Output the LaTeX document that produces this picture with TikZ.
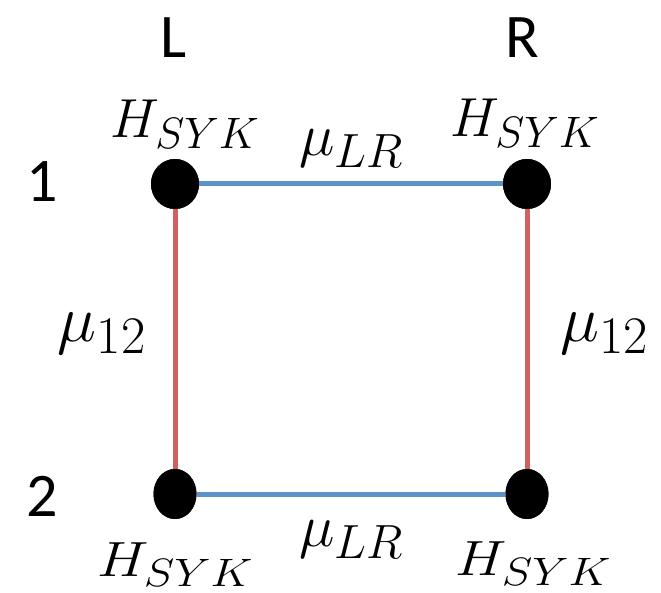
\RequirePackage{fix-cm}
\documentclass[tikz,border=0pt]{standalone}
\usepackage{fontspec}
\newfontfamily\labelfont{Carlito}
\renewcommand{\defaultscriptratio}{.8}
\usetikzlibrary{shapes.geometric, positioning}
\definecolor{lrblue}{RGB}{91,147,201}
\definecolor{rowred}{RGB}{208,96,94}

\begin{document}
\begin{tikzpicture}[
        x=1pt, y=-1pt,
        node distance=6pt and 6pt,
        site/.style={ellipse, fill=black, inner sep=0pt, minimum width=48pt, minimum height=50pt},
        narrow/.style={site, minimum width=43pt},
        ham/.style={inner sep=0pt, font=\fontsize{55}{62}\selectfont},
        coupling/.style={inner sep=0pt, font=\fontsize{60}{68}\selectfont},
        rowcoupling/.style={inner sep=0pt, font=\fontsize{66}{74}\selectfont},
        side/.style={inner sep=0pt, font=\labelfont\fontsize{62}{70}\selectfont},
        lrlink/.style={lrblue, line width=5pt},
        rowlink/.style={rowred, line width=5pt},
    ]
        \useasboundingbox (0,0) rectangle (661,593);

        % Sites
        \node[site] (l1) at (175,184) {};
        \node[site] (r1) at (527,184) {};
        \node[narrow] (l2) at (175,494) {};
        \node[narrow] (r2) at (527,494) {};

        % Links
        \draw[lrlink] (l1) -- (r1);
        \draw[lrlink] (l2) -- (r2);
        \draw[rowlink] (l1) -- (l2);
        \draw[rowlink] (r1) -- (r2);
        \node[site] at (l1) {};
        \node[site] at (r1) {};
        \node[narrow] at (l2) {};
        \node[narrow] at (r2) {};

        % Coupling labels
        \path (l1) -- node[coupling, above=16pt] (lrtop) {$\mu_{LR}$} (r1);
        \path (l2) -- node[coupling, below=26pt] (lrbot) {$\mu_{LR}$} (r2);
        \path (l1) -- node[rowcoupling, left=29pt, yshift=5pt] (left12) {$\mu_{12}$} (l2);
        \path (r1) -- node[rowcoupling, right=33pt, yshift=5pt] (right12) {$\mu_{12}$} (r2);

        % Hamiltonians
        \node[ham, above=10pt of l1, xshift=10pt] (hl1) {$H_{SYK}$};
        \node[ham, above=11pt of r1, xshift=-2pt] (hr1) {$H_{SYK}$};
        \node[ham, below=23pt of l2] (hl2) {\scalebox{1.05}[0.9]{$H_{SYK}$}};
        \node[ham, below=22pt of r2, xshift=6pt] (hr2) {\scalebox{1.05}[0.9]{$H_{SYK}$}};

        % Sides and rows
        \node[side] (lname) at (174,38) {L};
        \node[side] (rname) at (522,38) {R};
        \node[side] (row1) at (42,182) {1};
        \node[side] (row2) at (42,496) {2};
    \end{tikzpicture}
\end{document}
